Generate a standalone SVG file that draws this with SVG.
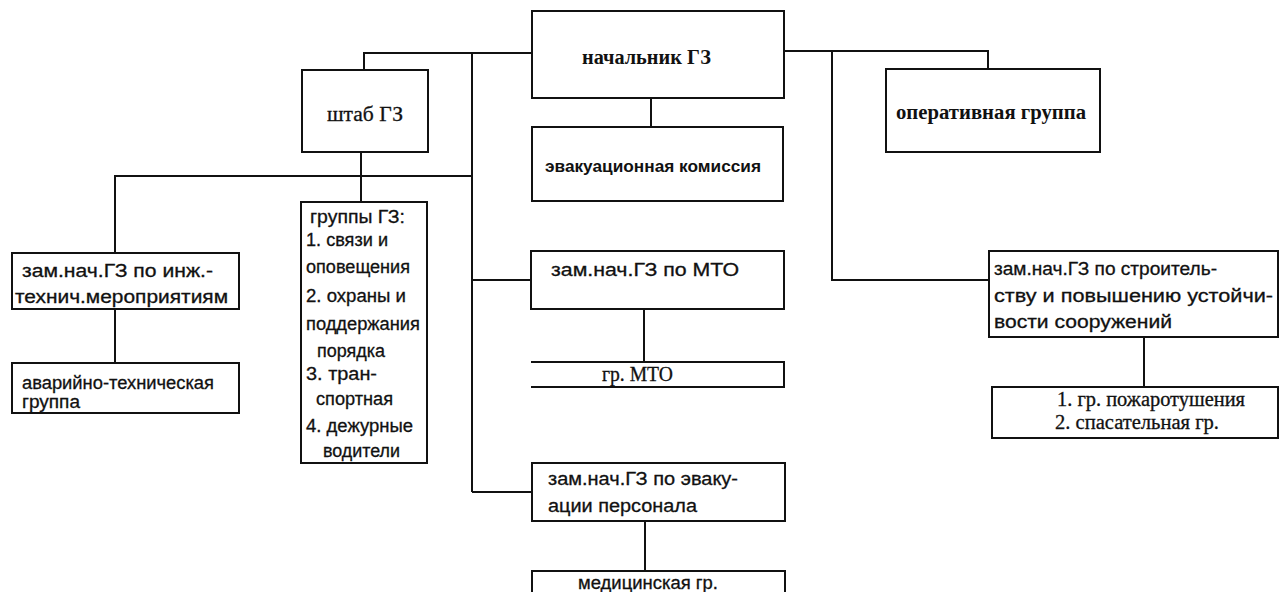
<svg xmlns="http://www.w3.org/2000/svg" width="1280" height="592" viewBox="0 0 1280 592">
<style>
.box{fill:#fff;stroke:#111;stroke-width:2}
.open{fill:none;stroke:#111;stroke-width:2}
.conn line,.conn path{stroke:#111;stroke-width:2;fill:none}
.s{font-family:"Liberation Sans",Arial,sans-serif;font-size:18px;fill:#111;stroke:#111;stroke-width:0.3}
.sb{font-family:"Liberation Sans",Arial,sans-serif;font-size:17px;font-weight:bold;fill:#111}
.r{font-family:"Liberation Serif","Times New Roman",serif;font-size:20px;fill:#111;stroke:#111;stroke-width:0.3}
.rb{font-family:"Liberation Serif","Times New Roman",serif;font-size:20px;font-weight:bold;fill:#111}
</style>
<rect width="1280" height="592" fill="#fff"/>
<g id="connectors" class="conn">
<path d="M532,53 H364 V70"/>
<line x1="472" y1="53" x2="472" y2="492"/>
<path d="M784,51 H988 V69"/>
<path d="M832,51 V280 H989"/>
<line x1="651" y1="98" x2="651" y2="127"/>
<path d="M472,176 H115 V253"/>
<line x1="361" y1="152" x2="361" y2="202"/>
<line x1="115" y1="309" x2="115" y2="363"/>
<line x1="472" y1="280" x2="531" y2="280"/>
<line x1="644" y1="309" x2="644" y2="362"/>
<line x1="472" y1="492" x2="532" y2="492"/>
<line x1="645" y1="521" x2="645" y2="571"/>
<line x1="1144" y1="337" x2="1144" y2="387"/>
</g>
<g id="nachalnik">
<rect class="box" x="532" y="11" width="252" height="87"/>
<text class="rb" x="582" y="64" textLength="129" lengthAdjust="spacingAndGlyphs">начальник ГЗ</text>
</g>
<g id="shtab">
<rect class="box" x="302" y="70" width="126" height="82"/>
<text class="r" x="327" y="121" font-size="21" textLength="76" lengthAdjust="spacingAndGlyphs">штаб ГЗ</text>
</g>
<g id="evak-komissiya">
<rect class="box" x="532" y="127" width="251" height="74"/>
<text class="sb" x="545" y="172" textLength="216" lengthAdjust="spacingAndGlyphs">эвакуационная комиссия</text>
</g>
<g id="operativnaya">
<rect class="box" x="886" y="69" width="214" height="83"/>
<text class="rb" x="896" y="119" textLength="190" lengthAdjust="spacingAndGlyphs">оперативная группа</text>
</g>
<g id="zam-inzh">
<rect class="box" x="12" y="253" width="227" height="56"/>
<text class="s" x="22" y="277" font-size="19" textLength="191" lengthAdjust="spacingAndGlyphs">зам.нач.ГЗ по инж.-</text>
<text class="s" x="15" y="303" font-size="19" textLength="213" lengthAdjust="spacingAndGlyphs">технич.мероприятиям</text>
</g>
<g id="avariyno">
<rect class="box" x="12" y="363" width="227" height="50"/>
<text class="s" x="22" y="389" font-size="19" textLength="192" lengthAdjust="spacingAndGlyphs">аварийно-техническая</text>
<text class="s" x="22" y="408" font-size="19" textLength="58" lengthAdjust="spacingAndGlyphs">группа</text>
</g>
<g id="gruppy">
<rect class="box" x="301" y="202" width="126" height="261"/>
<text class="s" x="310" y="223" textLength="95" lengthAdjust="spacingAndGlyphs">группы ГЗ:</text>
<text class="s" x="306" y="246" textLength="82" lengthAdjust="spacingAndGlyphs">1. связи и</text>
<text class="s" x="306" y="273" textLength="104" lengthAdjust="spacingAndGlyphs">оповещения</text>
<text class="s" x="306" y="302" textLength="100" lengthAdjust="spacingAndGlyphs">2. охраны и</text>
<text class="s" x="306" y="330" textLength="114" lengthAdjust="spacingAndGlyphs">поддержания</text>
<text class="s" x="317" y="357" textLength="68" lengthAdjust="spacingAndGlyphs">порядка</text>
<text class="s" x="306" y="380" textLength="71" lengthAdjust="spacingAndGlyphs">3.  тран-</text>
<text class="s" x="316" y="405" textLength="77" lengthAdjust="spacingAndGlyphs">спортная</text>
<text class="s" x="306" y="432" textLength="107" lengthAdjust="spacingAndGlyphs">4. дежурные</text>
<text class="s" x="323" y="457" textLength="77" lengthAdjust="spacingAndGlyphs">водители</text>
</g>
<g id="zam-mto">
<rect class="box" x="531" y="251" width="253" height="58"/>
<text class="s" x="551" y="276" font-size="19" textLength="188" lengthAdjust="spacingAndGlyphs">зам.нач.ГЗ по МТО</text>
</g>
<g id="gr-mto">
<path class="open" d="M531,362 H784 V387 H531"/>
<text class="r" x="602" y="381" textLength="71" lengthAdjust="spacingAndGlyphs">гр.  МТО</text>
</g>
<g id="zam-evak">
<rect class="box" x="532" y="463" width="253" height="58"/>
<text class="s" x="548" y="485" font-size="19" textLength="190" lengthAdjust="spacingAndGlyphs">зам.нач.ГЗ по эваку-</text>
<text class="s" x="548" y="512" font-size="19" textLength="149" lengthAdjust="spacingAndGlyphs">ации персонала</text>
</g>
<g id="medicinskaya">
<rect class="box" x="532" y="571" width="253" height="40"/>
<text class="s" x="578" y="589" textLength="140" lengthAdjust="spacingAndGlyphs">медицинская гр.</text>
</g>
<g id="zam-stroit">
<rect class="box" x="989" y="251" width="289" height="86"/>
<text class="s" x="994" y="275" font-size="20" textLength="223" lengthAdjust="spacingAndGlyphs">зам.нач.ГЗ по строитель-</text>
<text class="s" x="994" y="302" font-size="20" textLength="279" lengthAdjust="spacingAndGlyphs">ству и повышению устойчи-</text>
<text class="s" x="994" y="328" font-size="20" textLength="178" lengthAdjust="spacingAndGlyphs">вости сооружений</text>
</g>
<g id="pozhar">
<rect class="box" x="992" y="387" width="286" height="51"/>
<text class="r" x="1057" y="406" textLength="188" lengthAdjust="spacingAndGlyphs">1. гр. пожаротушения</text>
<text class="r" x="1055" y="429" textLength="164" lengthAdjust="spacingAndGlyphs">2. спасательная гр.</text>
</g>
</svg>
